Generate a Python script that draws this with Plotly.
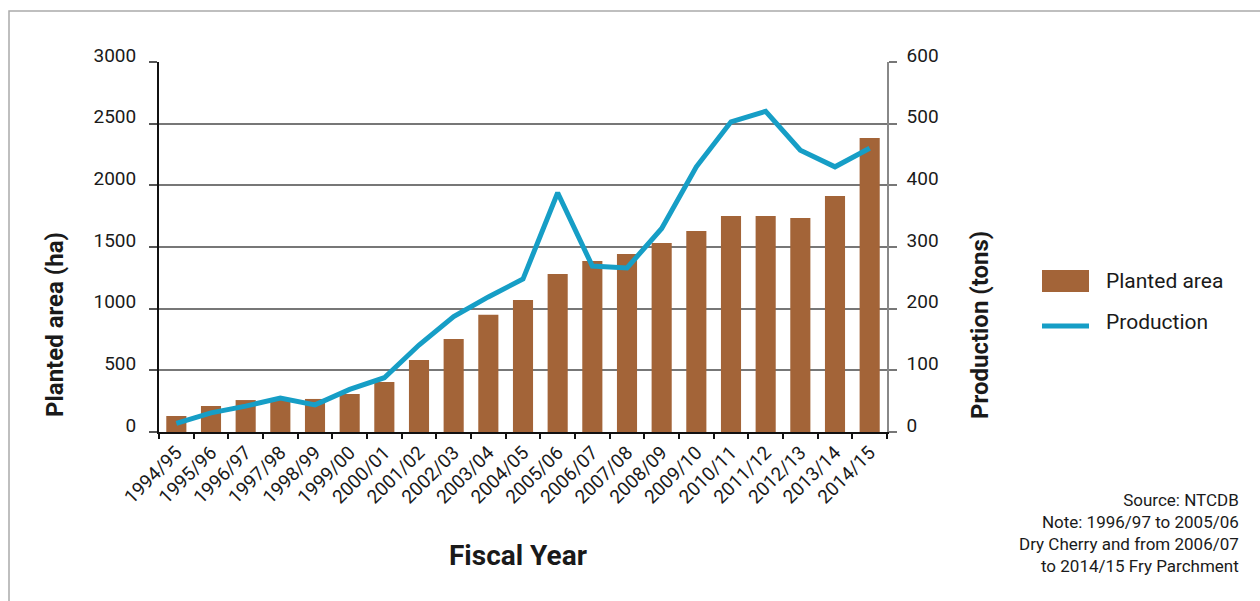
import plotly.graph_objects as go

years = ["1994/95", "1995/96", "1996/97", "1997/98", "1998/99", "1999/00", "2000/01",
         "2001/02", "2002/03", "2003/04", "2004/05", "2005/06", "2006/07", "2007/08",
         "2008/09", "2009/10", "2010/11", "2011/12", "2012/13", "2013/14", "2014/15"]
planted_area = [130, 211, 259, 265, 268, 308, 405, 584, 754, 951, 1070, 1281, 1386, 1443,
                1532, 1630, 1751, 1751, 1735, 1913, 2384]
production = [14, 31, 42, 55, 44, 69, 88, 141, 187, 219, 248, 388, 269, 266,
              330, 430, 503, 520, 457, 430, 460]

BAR = "#A36438"
LINE = "#169EC6"
FONT = "Roboto, Liberation Sans, sans-serif"

W, H = 1260, 601
L, R, T, B = 159, 887, 62, 432

fig = go.Figure()
fig.add_trace(go.Bar(x=years, y=planted_area, name="Planted area", marker_color=BAR,
                     marker_line_width=0, yaxis="y", showlegend=False))
fig.add_trace(go.Scatter(x=years, y=production, name="Production", mode="lines",
                         line=dict(color=LINE, width=5), yaxis="y2", showlegend=False))

# convert pixel positions to plot-area ("paper") fractions
def px(x):
    return (x - L) / (R - L)

def py(y):
    return (B - y) / (B - T)

fig.update_layout(
    width=W, height=H,
    margin=dict(l=L, r=W - R, t=T, b=H - B, pad=0),
    paper_bgcolor="white", plot_bgcolor="white",
    font=dict(family=FONT, color="#1a1a1a", size=19),
    bargap=0.42,
    xaxis=dict(
        type="category", showgrid=False, showline=True, linecolor="#111", linewidth=2,
        ticks="outside", tickson="boundaries", ticklen=5, tickcolor="#111", tickwidth=1.5,
        tickangle=-45, tickfont=dict(size=19, family=FONT), mirror=False,
    ),
    yaxis=dict(
        range=[0, 3000], tickvals=[0, 500, 1000, 1500, 2000, 2500, 3000],
        showgrid=True, gridcolor="#777", gridwidth=1.5, zeroline=False,
        showline=True, linecolor="#111", linewidth=2,
        ticks="outside", ticklen=8, tickcolor="#555", tickwidth=1.5,
        tickfont=dict(size=19, family=FONT), ticklabelstandoff=9, ticklabelshift=-7,
    ),
    yaxis2=dict(
        range=[0, 600], tickvals=[0, 100, 200, 300, 400, 500, 600], overlaying="y", side="right",
        showgrid=False, zeroline=False, showline=True, linecolor="#888", linewidth=1.5,
        ticks="outside", ticklen=8, tickcolor="#777", tickwidth=1.5,
        tickfont=dict(size=19, family=FONT), ticklabelstandoff=6, ticklabelshift=-7,
    ),
)

annotations = [
    dict(text="<b>Planted area (ha)</b>", x=px(55), y=py(325), textangle=-90,
         font=dict(size=24, family=FONT, color="#1a1a1a")),
    dict(text="<b>Production (tons)</b>", x=px(980), y=py(325), textangle=-90,
         font=dict(size=24, family=FONT, color="#1a1a1a")),
    dict(text="<b>Fiscal Year</b>", x=px(518), y=py(555),
         font=dict(size=28, family=FONT, color="#1a1a1a")),
    dict(text="Planted area", x=px(1104), y=py(281), xanchor="left",
         font=dict(size=21, family=FONT, color="#1a1a1a")),
    dict(text="Production", x=px(1104), y=py(322), xanchor="left",
         font=dict(size=21, family=FONT, color="#1a1a1a")),
    dict(text="Source: NTCDB<br>Note: 1996/97 to 2005/06<br>Dry Cherry and from 2006/07<br>to 2014/15 Fry Parchment",
         x=px(1241), y=py(533), xanchor="right", align="right",
         font=dict(size=17, family=FONT, color="#1a1a1a")),
]
for a in annotations:
    a.update(xref="paper", yref="paper", showarrow=False)
    if "xanchor" not in a:
        a["xanchor"] = "center"
    a.setdefault("yanchor", "middle")
fig.update_layout(annotations=annotations)

shapes = [
    # outer frame
    dict(type="rect", xref="paper", yref="paper", x0=px(9), x1=px(1300), y0=py(11), y1=py(650),
         line=dict(color="#aaa", width=1.5), fillcolor="rgba(0,0,0,0)", layer="below"),
    # legend swatches
    dict(type="rect", xref="paper", yref="paper", x0=px(1042), x1=px(1089), y0=py(270), y1=py(292),
         line=dict(width=0), fillcolor=BAR),
    dict(type="line", xref="paper", yref="paper", x0=px(1042), x1=px(1089), y0=py(326), y1=py(326),
         line=dict(color=LINE, width=5)),
]
fig.update_layout(shapes=shapes)

fig.write_html("out.html")
